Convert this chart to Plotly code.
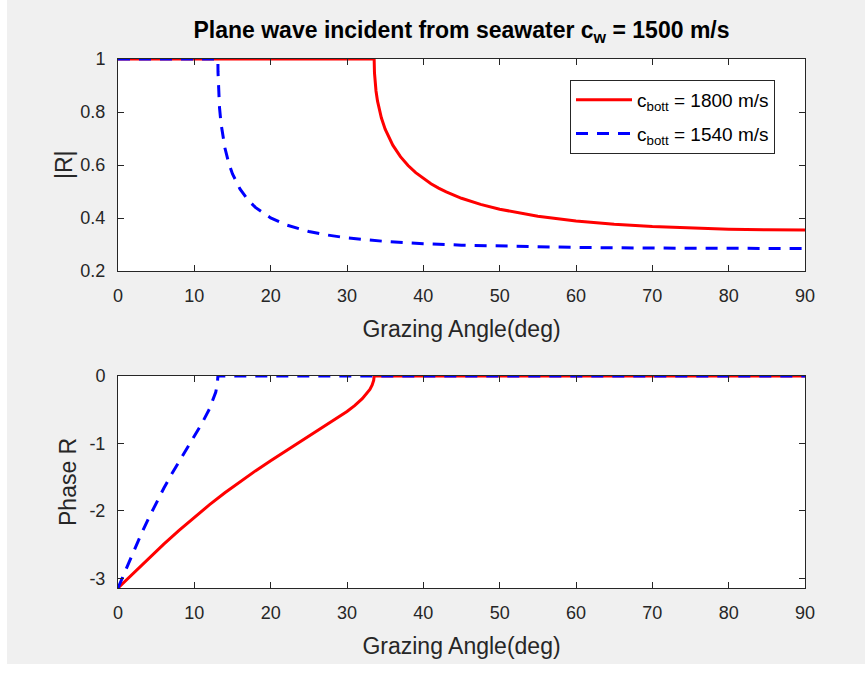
import math
import plotly.graph_objects as go

# ---------------- data ----------------
red_mag_angle = [0, 33.557, 33.6, 33.7, 33.8, 34, 34.5, 35, 35.5, 36, 37, 38, 39, 40, 41, 42, 43, 45, 47.5, 50, 55,
                 60, 65, 70, 75, 80, 85, 90]
red_mag = [1, 1, 0.9473, 0.9059, 0.8793, 0.8410, 0.7784, 0.7354, 0.7020, 0.6747, 0.6314, 0.5980, 0.5709, 0.5484,
           0.5293, 0.5128, 0.4985, 0.4745, 0.4512, 0.4331, 0.4068, 0.3890, 0.3766, 0.3679, 0.3618, 0.3578, 0.3556,
           0.3548]

blue_mag_angle = [0, 13.087, 13.1, 13.15, 13.2, 13.3, 13.5, 14, 14.5, 15, 16, 17, 18, 20, 22, 25, 27, 30, 35, 40,
                  45, 50, 60, 70, 80, 90]
blue_mag = [1, 1, 0.9513, 0.8953, 0.8625, 0.8167, 0.7560, 0.6651, 0.6079, 0.5665, 0.5085, 0.4690, 0.4400, 0.4003,
            0.3744, 0.3491, 0.3375, 0.3250, 0.3115, 0.3031, 0.2976, 0.2938, 0.2890, 0.2865, 0.2853, 0.2849]

red_phase_angle = [0, 0.5, 1, 2, 3, 4, 5, 6, 8, 10, 12, 14, 16, 18, 20, 22, 24, 26, 28, 30, 31, 32, 33, 33.3,
                   33.5, 33.557, 90]
red_phase = [-3.1416, -3.0863, -3.0312, -2.9211, -2.8117, -2.7035, -2.5967, -2.4915, -2.2872, -2.0918, -1.9063,
             -1.7305, -1.5641, -1.4061, -1.2553, -1.1101, -0.9683, -0.8272, -0.6826, -0.5263, -0.4383, -0.3361,
             -0.1976, -0.1336, -0.0630, 0, 0]

blue_phase_angle = [0, 0.5, 1, 2, 3, 4, 5, 6, 7, 8, 9, 10, 11, 12, 12.5, 12.8, 13, 13.087, 90]
blue_phase = [-3.1416, -3.0068, -2.8727, -2.6086, -2.3536, -2.1105, -1.8807, -1.6642, -1.4599, -1.2656, -1.0779,
              -0.8921, -0.7002, -0.4834, -0.3478, -0.2402, -0.1313, 0, 0]

red_name = "c<sub>bott</sub> = 1800 m/s"
blue_name = "c<sub>bott</sub> = 1540 m/s"
title_text = "<b>Plane wave incident from seawater c<sub>w</sub> = 1500 m/s</b>"
x_title = "Grazing Angle(deg)"
top_y_title = "|R|"
bot_y_title = "Phase R"
x_ticks = [0, 10, 20, 30, 40, 50, 60, 70, 80, 90]
x_tick_text = ["0", "10", "20", "30", "40", "50", "60", "70", "80", "90"]
top_y_ticks = [0.2, 0.4, 0.6, 0.8, 1]
top_y_text = ["0.2", "0.4", "0.6", "0.8", "1"]
bot_y_ticks = [-3, -2, -1, 0]
bot_y_text = ["-3", "-2", "-1", "0"]

# ---------------- figure ----------------
FONT = "Liberation Sans, Arial, Helvetica, sans-serif"
AX = "#262626"
RED = "#ff0000"
BLUE = "#0000ff"
DASH = "12px,9px"

fig = go.Figure()
fig.add_trace(go.Scatter(x=red_mag_angle, y=red_mag, mode="lines", name=red_name, legendgroup="a",
                         line=dict(color=RED, width=3), xaxis="x", yaxis="y", cliponaxis=False))
fig.add_trace(go.Scatter(x=blue_mag_angle, y=blue_mag, mode="lines", name=blue_name, legendgroup="b",
                         line=dict(color=BLUE, width=3, dash=DASH), xaxis="x", yaxis="y", cliponaxis=False))
fig.add_trace(go.Scatter(x=red_phase_angle, y=red_phase, mode="lines", showlegend=False,
                         line=dict(color=RED, width=3), xaxis="x2", yaxis="y2", cliponaxis=False))
fig.add_trace(go.Scatter(x=blue_phase_angle, y=blue_phase, mode="lines", showlegend=False,
                         line=dict(color=BLUE, width=3, dash=DASH), xaxis="x2", yaxis="y2", cliponaxis=False))

axis_common = dict(showline=True, linecolor=AX, linewidth=1, mirror="ticks", ticks="inside",
                   ticklen=6, tickcolor=AX, tickwidth=1, showgrid=False, zeroline=False,
                   tickfont=dict(family=FONT, size=18, color=AX))
title_font = dict(family=FONT, size=23, color=AX)

W, H = 865, 673
L, R, T, B = 118, 60, 59, 85
ph = H - T - B
pw = W - L - R
top_dom = [1 - 212 / ph, 1]
bot_dom = [0, 212 / ph]

fig.update_layout(
    width=W, height=H,
    margin=dict(l=L, r=R, t=T, b=B),
    paper_bgcolor="#f0f0f0",
    plot_bgcolor="#ffffff",
    font=dict(family=FONT, color=AX),
    title=dict(text=title_text, x=0.5, xref="paper", xanchor="center",
               y=1 - 30 / H, yref="container", yanchor="middle",
               font=dict(family=FONT, size=23, color="#000000")),
    xaxis=dict(axis_common, domain=[0, 1], range=[0, 90], tickvals=x_ticks, ticktext=x_tick_text, anchor="y",
               title=dict(text=x_title, font=title_font, standoff=16),
               ticklabelstandoff=8),
    yaxis=dict(axis_common, domain=top_dom, range=[0.2, 1], tickvals=top_y_ticks, ticktext=top_y_text, anchor="x",
               ticklabelstandoff=8),
    xaxis2=dict(axis_common, domain=[0, 1], range=[0, 90], tickvals=x_ticks, ticktext=x_tick_text, anchor="y2",
                title=dict(text=x_title, font=title_font, standoff=16),
                ticklabelstandoff=8),
    yaxis2=dict(axis_common, domain=bot_dom, range=[-math.pi, 0], tickvals=bot_y_ticks, ticktext=bot_y_text,
                anchor="x2", ticklabelstandoff=8),
    legend=dict(x=(570 - L) / pw, y=(H - B - 80) / ph, xanchor="left", yanchor="top",
                bgcolor="#ffffff", bordercolor=AX, borderwidth=1, itemwidth=56,
                traceorder="grouped", tracegroupgap=6,
                font=dict(family=FONT, size=19, color="#000000")),
    showlegend=True,
)

# y-axis titles placed like the reference
fig.add_annotation(text=top_y_title, xref="paper", yref="paper", x=(64 - L) / pw, y=(H - B - 165) / ph,
                   textangle=-90, showarrow=False, xanchor="center", yanchor="middle", font=title_font)
fig.add_annotation(text=bot_y_title, xref="paper", yref="paper", x=(68 - L) / pw, y=(H - B - 482) / ph,
                   textangle=-90, showarrow=False, xanchor="center", yanchor="middle", font=title_font)

# white strips at the left and bottom edges of the screenshot
fig.add_shape(type="rect", xref="paper", yref="paper",
              x0=(0 - L) / pw, x1=(7 - L) / pw,
              y0=(H - B - H) / ph, y1=(H - B) / ph + 1,
              fillcolor="#ffffff", line=dict(width=0), layer="below")
fig.add_shape(type="rect", xref="paper", yref="paper",
              x0=(0 - L) / pw, x1=(W - L) / pw,
              y0=(H - B - H) / ph, y1=(H - B - 664) / ph,
              fillcolor="#ffffff", line=dict(width=0), layer="below")

fig.write_html("out.html")
